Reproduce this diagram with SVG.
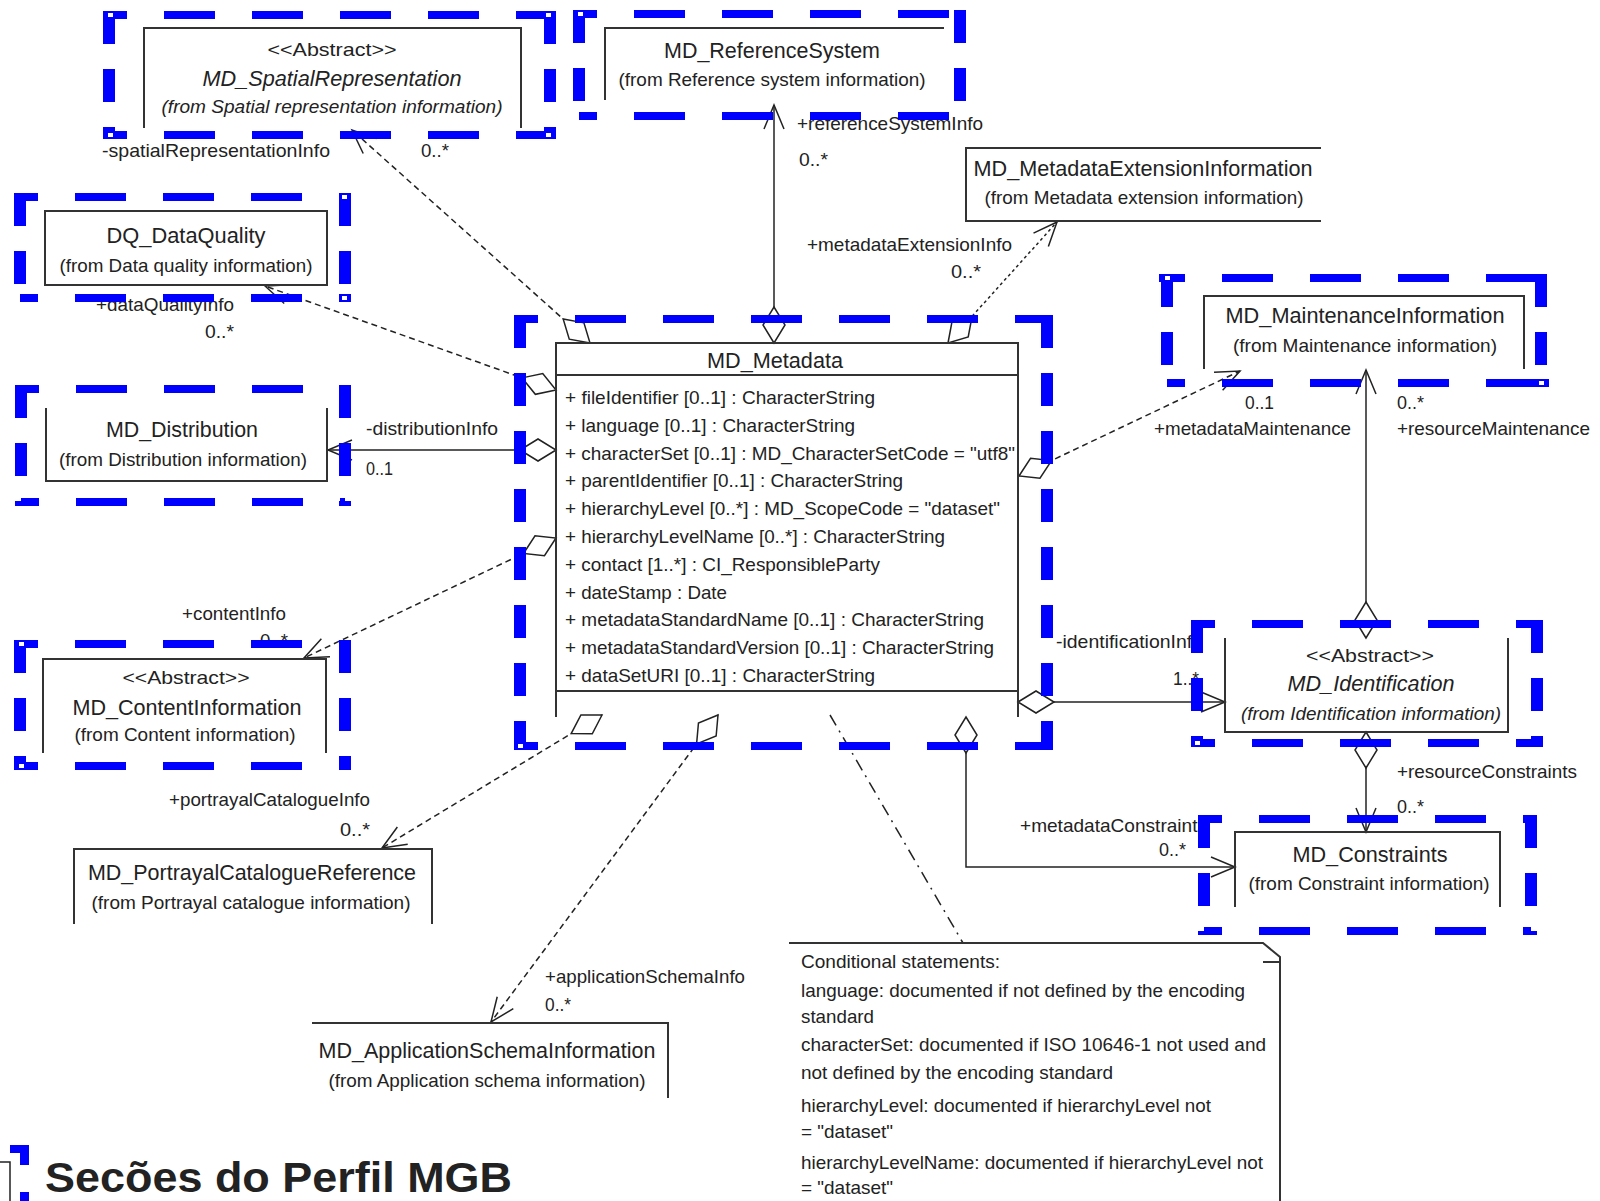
<svg xmlns="http://www.w3.org/2000/svg" width="1600" height="1201" viewBox="0 0 1600 1201">
<style>
.bg{fill:#ffffff}
.bh{stroke:#0000ff;stroke-width:8;stroke-dasharray:51 37;stroke-dashoffset:33;fill:none}
.bv{stroke:#0000ff;stroke-width:12;stroke-dasharray:33 25;fill:none}
.hd{fill:#ffffff}
.box{fill:none;stroke:#333;stroke-width:2}
.t{font-family:"Liberation Sans",Arial,sans-serif;fill:#222}
.cn{font-size:22px}
.fr{font-size:19px}
.lb{font-size:19px}
.at{font-size:19px}
.it{font-style:italic}
.m{text-anchor:middle}
.c{fill:none;stroke:#222;stroke-width:1.5}
.d{stroke-dasharray:6 4}
.o{stroke-dasharray:3 3}
.dd{stroke-dasharray:12 6 2 6}
</style>
<defs>
<marker id="arr" markerUnits="userSpaceOnUse" markerWidth="30" markerHeight="30" viewBox="0 0 30 30" refX="27" refY="15" orient="auto">
<path d="M3,5 L27,15 L3,25" fill="none" stroke="#222" stroke-width="1.5"/>
</marker>
<marker id="dia" markerUnits="userSpaceOnUse" markerWidth="40" markerHeight="30" viewBox="0 0 40 30" refX="2" refY="15" orient="auto">
<path d="M2,15 L20,4 L38,15 L20,26 Z" fill="#ffffff" stroke="#222" stroke-width="1.5"/>
</marker>
</defs>
<rect class="bg" x="0" y="0" width="1600" height="1201"/>

<g id="connectors">
<path id="c-spatial" class="c d" d="M590,343 L352,130" marker-start="url(#dia)" marker-end="url(#arr)"/>
<path id="c-refsys" class="c" d="M774,343 L774,105" marker-start="url(#dia)" marker-end="url(#arr)"/>
<path id="c-ext" class="c o" d="M948,343 L1057,222" marker-start="url(#dia)" marker-end="url(#arr)"/>
<path id="c-dq" class="c d" d="M556,390 L265,286" marker-start="url(#dia)" marker-end="url(#arr)"/>
<path id="c-dist" class="c" d="M556,450 L328,450" marker-start="url(#dia)" marker-end="url(#arr)"/>
<path id="c-content" class="c d" d="M556,538 L304,658" marker-start="url(#dia)" marker-end="url(#arr)"/>
<path id="c-portrayal" class="c d" d="M602,715 L382,848" marker-start="url(#dia)" marker-end="url(#arr)"/>
<path id="c-appschema" class="c d" d="M718,715 L491,1022" marker-start="url(#dia)" marker-end="url(#arr)"/>
<path id="c-note" class="c dd" d="M830,715 L963,943"/>
<path id="c-mdconstr" class="c" d="M966,717 L966,867 L1235,867" marker-start="url(#dia)" marker-end="url(#arr)"/>
<path id="c-ident" class="c" d="M1018,702 L1225,702" marker-start="url(#dia)" marker-end="url(#arr)"/>
<path id="c-mdmaint" class="c d" d="M1019,476 L1240,371" marker-start="url(#dia)" marker-end="url(#arr)"/>
<path id="c-resmaint" class="c" d="M1366,638 L1366,370" marker-start="url(#dia)" marker-end="url(#arr)"/>
<path id="c-resconstr" class="c" d="M1366,732 L1366,832" marker-start="url(#dia)" marker-end="url(#arr)"/>
</g>

<g id="labels">
<text class="t lb" x="102" y="157" textLength="228" lengthAdjust="spacingAndGlyphs">-spatialRepresentationInfo</text>
<text class="t lb" x="421" y="157" textLength="28" lengthAdjust="spacingAndGlyphs">0..*</text>
<text class="t lb" x="797" y="130" textLength="186" lengthAdjust="spacingAndGlyphs">+referenceSystemInfo</text>
<text class="t lb" x="799" y="166" textLength="29" lengthAdjust="spacingAndGlyphs">0..*</text>
<text class="t lb" x="807" y="251" textLength="205" lengthAdjust="spacingAndGlyphs">+metadataExtensionInfo</text>
<text class="t lb" x="951" y="278" textLength="30" lengthAdjust="spacingAndGlyphs">0..*</text>
<text class="t lb" x="96" y="311" textLength="138" lengthAdjust="spacingAndGlyphs">+dataQualityInfo</text>
<text class="t lb" x="205" y="338" textLength="29" lengthAdjust="spacingAndGlyphs">0..*</text>
<text class="t lb" x="366" y="435" textLength="132" lengthAdjust="spacingAndGlyphs">-distributionInfo</text>
<text class="t lb" x="366" y="475" textLength="27" lengthAdjust="spacingAndGlyphs">0..1</text>
<text class="t lb" x="182" y="620" textLength="104" lengthAdjust="spacingAndGlyphs">+contentInfo</text>
<text class="t lb" x="260" y="647" textLength="28" lengthAdjust="spacingAndGlyphs">0..*</text>
<text class="t lb" x="169" y="806" textLength="201" lengthAdjust="spacingAndGlyphs">+portrayalCatalogueInfo</text>
<text class="t lb" x="340" y="836" textLength="30" lengthAdjust="spacingAndGlyphs">0..*</text>
<text class="t lb" x="545" y="983" textLength="200" lengthAdjust="spacingAndGlyphs">+applicationSchemaInfo</text>
<text class="t lb" x="545" y="1011" textLength="26" lengthAdjust="spacingAndGlyphs">0..*</text>
<text class="t lb" x="1020" y="832" textLength="187" lengthAdjust="spacingAndGlyphs">+metadataConstraints</text>
<text class="t lb" x="1159" y="856" textLength="27" lengthAdjust="spacingAndGlyphs">0..*</text>
<text class="t lb" x="1056" y="648" textLength="147" lengthAdjust="spacingAndGlyphs">-identificationInfo</text>
<text class="t lb" x="1173" y="685" textLength="26" lengthAdjust="spacingAndGlyphs">1..*</text>
<text class="t lb" x="1397" y="778" textLength="180" lengthAdjust="spacingAndGlyphs">+resourceConstraints</text>
<text class="t lb" x="1397" y="813" textLength="27" lengthAdjust="spacingAndGlyphs">0..*</text>
<text class="t lb" x="1154" y="435" textLength="197" lengthAdjust="spacingAndGlyphs">+metadataMaintenance</text>
<text class="t lb" x="1245" y="409" textLength="29" lengthAdjust="spacingAndGlyphs">0..1</text>
<text class="t lb" x="1397" y="435" textLength="193" lengthAdjust="spacingAndGlyphs">+resourceMaintenance</text>
<text class="t lb" x="1397" y="409" textLength="27" lengthAdjust="spacingAndGlyphs">0..*</text>
</g>

<g id="n-spatial">
<path class="box" d="M144,128 V28 H521 V128"/>
<text class="t fr m" x="332" y="56" textLength="129" lengthAdjust="spacingAndGlyphs">&lt;&lt;Abstract&gt;&gt;</text>
<text class="t cn it m" x="332" y="86" textLength="259" lengthAdjust="spacingAndGlyphs">MD_SpatialRepresentation</text>
<text class="t fr it m" x="332" y="113" textLength="341" lengthAdjust="spacingAndGlyphs">(from Spatial representation information)</text>
</g>

<g id="n-refsys">
<path class="box" d="M605,100 V28 H944"/>
<text class="t cn m" x="772" y="58" textLength="216" lengthAdjust="spacingAndGlyphs">MD_ReferenceSystem</text>
<text class="t fr m" x="772" y="86" textLength="307" lengthAdjust="spacingAndGlyphs">(from Reference system information)</text>
</g>

<g id="n-ext">
<path class="box" d="M1321,148 H966 V221 H1321"/>
<text class="t cn m" x="1143" y="176" textLength="339" lengthAdjust="spacingAndGlyphs">MD_MetadataExtensionInformation</text>
<text class="t fr m" x="1144" y="204" textLength="319" lengthAdjust="spacingAndGlyphs">(from Metadata extension information)</text>
</g>

<g id="n-dq">
<rect class="box" x="45" y="211" width="282" height="74"/>
<text class="t cn m" x="186" y="243" textLength="159" lengthAdjust="spacingAndGlyphs">DQ_DataQuality</text>
<text class="t fr m" x="186" y="272" textLength="253" lengthAdjust="spacingAndGlyphs">(from Data quality information)</text>
</g>

<g id="n-dist">
<path class="box" d="M46,408 V481 H327 V408"/>
<text class="t cn m" x="182" y="437" textLength="152" lengthAdjust="spacingAndGlyphs">MD_Distribution</text>
<text class="t fr m" x="183" y="466" textLength="248" lengthAdjust="spacingAndGlyphs">(from Distribution information)</text>
</g>

<g id="n-content">
<path class="box" d="M43,753 V659 H326 V753"/>
<text class="t fr m" x="186" y="684" textLength="127" lengthAdjust="spacingAndGlyphs">&lt;&lt;Abstract&gt;&gt;</text>
<text class="t cn m" x="187" y="715" textLength="229" lengthAdjust="spacingAndGlyphs">MD_ContentInformation</text>
<text class="t fr m" x="185" y="741" textLength="221" lengthAdjust="spacingAndGlyphs">(from Content information)</text>
</g>

<g id="n-metadata">
<path class="box" d="M556,717 V343 H1018 V717 M556,375 H1018 M556,691 H1018"/>
<text class="t cn m" x="775" y="368" textLength="136" lengthAdjust="spacingAndGlyphs">MD_Metadata</text>
<text class="t at" x="565" y="404" textLength="310" lengthAdjust="spacingAndGlyphs">+ fileIdentifier [0..1] : CharacterString</text>
<text class="t at" x="565" y="432" textLength="290" lengthAdjust="spacingAndGlyphs">+ language [0..1] : CharacterString</text>
<text class="t at" x="565" y="460" textLength="450" lengthAdjust="spacingAndGlyphs">+ characterSet [0..1] : MD_CharacterSetCode = "utf8"</text>
<text class="t at" x="565" y="487" textLength="338" lengthAdjust="spacingAndGlyphs">+ parentIdentifier [0..1] : CharacterString</text>
<text class="t at" x="565" y="515" textLength="435" lengthAdjust="spacingAndGlyphs">+ hierarchyLevel [0..*] : MD_ScopeCode = "dataset"</text>
<text class="t at" x="565" y="543" textLength="380" lengthAdjust="spacingAndGlyphs">+ hierarchyLevelName [0..*] : CharacterString</text>
<text class="t at" x="565" y="571" textLength="315" lengthAdjust="spacingAndGlyphs">+ contact [1..*] : CI_ResponsibleParty</text>
<text class="t at" x="565" y="599" textLength="162" lengthAdjust="spacingAndGlyphs">+ dateStamp : Date</text>
<text class="t at" x="565" y="626" textLength="419" lengthAdjust="spacingAndGlyphs">+ metadataStandardName [0..1] : CharacterString</text>
<text class="t at" x="565" y="654" textLength="429" lengthAdjust="spacingAndGlyphs">+ metadataStandardVersion [0..1] : CharacterString</text>
<text class="t at" x="565" y="682" textLength="310" lengthAdjust="spacingAndGlyphs">+ dataSetURI [0..1] : CharacterString</text>
</g>

<g id="n-maint">
<path class="box" d="M1204,369 V296 H1524 V369"/>
<text class="t cn m" x="1365" y="323" textLength="279" lengthAdjust="spacingAndGlyphs">MD_MaintenanceInformation</text>
<text class="t fr m" x="1365" y="352" textLength="264" lengthAdjust="spacingAndGlyphs">(from Maintenance information)</text>
</g>

<g id="n-ident">
<path class="box" d="M1225,638 V732 H1508 V638"/>
<text class="t fr m" x="1370" y="662" textLength="128" lengthAdjust="spacingAndGlyphs">&lt;&lt;Abstract&gt;&gt;</text>
<text class="t cn it m" x="1371" y="691" textLength="167" lengthAdjust="spacingAndGlyphs">MD_Identification</text>
<text class="t fr it m" x="1371" y="720" textLength="260" lengthAdjust="spacingAndGlyphs">(from Identification information)</text>
</g>

<g id="n-constr">
<path class="box" d="M1235,907 V832 H1500 V907"/>
<text class="t cn m" x="1370" y="862" textLength="155" lengthAdjust="spacingAndGlyphs">MD_Constraints</text>
<text class="t fr m" x="1369" y="890" textLength="241" lengthAdjust="spacingAndGlyphs">(from Constraint information)</text>
</g>

<g id="n-portrayal">
<path class="box" d="M74,924 V849 H432 V924"/>
<text class="t cn m" x="252" y="880" textLength="328" lengthAdjust="spacingAndGlyphs">MD_PortrayalCatalogueReference</text>
<text class="t fr m" x="251" y="909" textLength="319" lengthAdjust="spacingAndGlyphs">(from Portrayal catalogue information)</text>
</g>

<g id="n-appschema">
<path class="box" d="M312,1023 H668 V1098"/>
<text class="t cn m" x="487" y="1058" textLength="337" lengthAdjust="spacingAndGlyphs">MD_ApplicationSchemaInformation</text>
<text class="t fr m" x="487" y="1087" textLength="317" lengthAdjust="spacingAndGlyphs">(from Application schema information)</text>
</g>

<g id="n-note">
<path class="box" d="M789,943 H1263 L1280,957 V1201 M1263,962 H1280"/>
<text class="t at" x="801" y="968" textLength="199" lengthAdjust="spacingAndGlyphs">Conditional statements:</text>
<text class="t at" x="801" y="997" textLength="444" lengthAdjust="spacingAndGlyphs">language: documented if not defined by the encoding</text>
<text class="t at" x="801" y="1023" textLength="73" lengthAdjust="spacingAndGlyphs">standard</text>
<text class="t at" x="801" y="1051" textLength="465" lengthAdjust="spacingAndGlyphs">characterSet: documented if ISO 10646-1 not used and</text>
<text class="t at" x="801" y="1079" textLength="312" lengthAdjust="spacingAndGlyphs">not defined by the encoding standard</text>
<text class="t at" x="801" y="1112" textLength="410" lengthAdjust="spacingAndGlyphs">hierarchyLevel: documented if hierarchyLevel not</text>
<text class="t at" x="801" y="1138" textLength="92" lengthAdjust="spacingAndGlyphs">= "dataset"</text>
<text class="t at" x="801" y="1169" textLength="462" lengthAdjust="spacingAndGlyphs">hierarchyLevelName: documented if hierarchyLevel not</text>
<text class="t at" x="801" y="1194" textLength="92" lengthAdjust="spacingAndGlyphs">= "dataset"</text>
</g>

<g id="highlights">
<path class="bh" d="M109,15 H550 M109,135 H550 M579,14 H960 M579,116 H960 M20,197 H345 M20,298 H345 M21,389 H345 M21,502 H345 M20,644 H345 M20,766 H345 M520,319 H1047 M520,746 H1047 M1167,278 H1541 M1167,383 H1541 M1197,624 H1537 M1197,743 H1537 M1204,819 H1531 M1204,931 H1531"/>
<path class="bv" d="M109,11 V139 M550,11 V139 M579,10 V120 M960,10 V120 M20,193 V302 M345,193 V302 M21,385 V506 M345,385 V506 M20,640 V770 M345,640 V770 M520,315 V750 M1047,315 V750 M1167,274 V387 M1541,274 V387 M1197,620 V747 M1537,620 V747 M1204,815 V935 M1531,815 V935"/>
<g fill="#0000ff">
<rect x="103" y="11" width="14" height="8"/><rect x="542" y="11" width="14" height="8"/><rect x="103" y="131" width="14" height="8"/><rect x="542" y="131" width="14" height="8"/>
<rect x="1159" y="274" width="14" height="8"/><rect x="1535" y="379" width="14" height="8"/>
<rect x="339" y="193" width="12" height="8"/><rect x="339" y="294" width="12" height="8"/>
<rect x="514" y="742" width="14" height="8"/><rect x="1191" y="739" width="14" height="8"/>
<rect x="10" y="1145" width="19" height="8"/><rect x="20" y="1145" width="9" height="20"/><rect x="20" y="1192" width="9" height="9"/>
</g>
<g class="hd">
<rect x="108" y="13" width="5" height="4"/><rect x="546" y="13" width="5" height="4"/><rect x="108" y="133" width="5" height="4"/><rect x="546" y="133" width="5" height="4"/>
<rect x="578" y="12" width="5" height="4"/><rect x="957" y="114" width="5" height="4"/>
<rect x="342" y="195" width="5" height="4"/><rect x="342" y="296" width="5" height="4"/>
<rect x="19" y="642" width="5" height="4"/><rect x="19" y="764" width="5" height="4"/>
<rect x="518" y="744" width="5" height="4"/>
<rect x="1165" y="276" width="5" height="4"/><rect x="1539" y="381" width="5" height="4"/>
<rect x="1195" y="741" width="5" height="4"/>
</g>
<path d="M0,1162 H10 V1201" fill="none" stroke="#222" stroke-width="1.5"/>
</g>

<g id="title">
<text class="t" x="45" y="1192" font-size="43" font-weight="bold" fill="#000" textLength="467" lengthAdjust="spacingAndGlyphs">Secões do Perfil MGB</text>
</g>
</svg>
